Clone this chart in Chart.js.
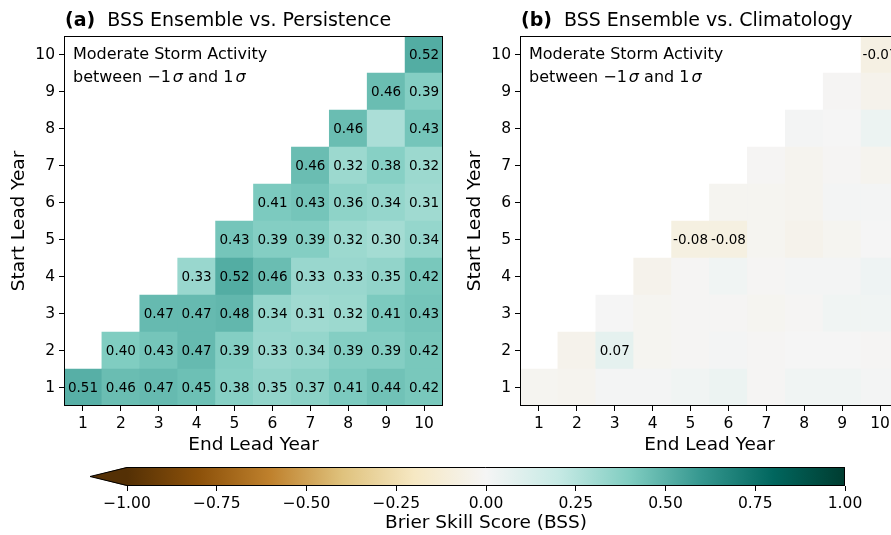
<!DOCTYPE html>
<html>
<head>
<meta charset="utf-8">
<script src="https://cdn.jsdelivr.net/npm/chart.js@4.4.1/dist/chart.umd.min.js"></script>
<style>
  html, body { margin: 0; padding: 0; background: #fff; }
  #wrap { position: relative; width: 891px; height: 535px; overflow: hidden; background: #fff; }
  canvas { position: absolute; }
</style>
</head>
<body>
<div id="wrap">
  <canvas id="chartA" width="460" height="460" style="left:0;top:0"></canvas>
  <canvas id="chartB" width="460" height="460" style="left:456px;top:0"></canvas>
  <canvas id="cbar" width="891" height="80" style="left:0;top:455px"></canvas>
</div>
<script>
// --- data ---
const startYears = [1, 2, 3, 4, 5, 6, 7, 8, 9, 10];
const endYears = [1, 2, 3, 4, 5, 6, 7, 8, 9, 10];

// one row per start lead year, values for end lead year = start .. 10
const bssPersistence = [
    [0.51, 0.46, 0.47, 0.45, 0.38, 0.35, 0.37, 0.41, 0.44, 0.42],
    [0.40, 0.43, 0.47, 0.39, 0.33, 0.34, 0.39, 0.39, 0.42],
    [0.47, 0.47, 0.48, 0.34, 0.31, 0.32, 0.41, 0.43],
    [0.33, 0.52, 0.46, 0.33, 0.33, 0.35, 0.42],
    [0.43, 0.39, 0.39, 0.32, 0.30, 0.34],
    [0.41, 0.43, 0.36, 0.34, 0.31],
    [0.46, 0.32, 0.38, 0.32],
    [0.46, 0.28, 0.43],
    [0.46, 0.39],
    [0.52]
];
const bssClimatology = [
    [-0.02, -0.03, 0.01, 0.01, 0.02, 0.04, -0.01, 0.02, 0.02, 0.01],
    [-0.04, 0.07, -0.02, -0.01, 0.01, -0.01, 0.00, 0.00, -0.01],
    [0.00, -0.02, -0.01, -0.01, -0.02, -0.01, 0.02, 0.02],
    [-0.04, -0.01, 0.02, -0.01, 0.01, 0.01, 0.03],
    [-0.08, -0.08, -0.02, -0.04, -0.02, 0.00],
    [-0.02, -0.02, -0.03, 0.01, 0.01],
    [-0.01, -0.03, -0.01, -0.03],
    [0.01, 0.00, 0.04],
    [-0.01, -0.04],
    [-0.07]
];
// cells drawn without a number, as [start, end]
const unlabeledPersistence = [[8, 9]];

const cbarTicks = [-1, -0.75, -0.5, -0.25, 0, 0.25, 0.5, 0.75, 1];

// matplotlib BrBG
const brbgStops = ['#543005', '#8c510a', '#bf812d', '#dfc27d', '#f6e8c3', '#f5f5f5',
                   '#c7eae5', '#80cdc1', '#35978f', '#01665e', '#003c30'];

Chart.defaults.font.family = "'DejaVu Sans', sans-serif";
Chart.defaults.color = '#000';

const hexRgb = h => [1, 3, 5].map(i => parseInt(h.slice(i, i + 2), 16));

function brbg(v) {
    const n = brbgStops.length - 1;
    const t = Math.min(Math.max((v + 1) / 2, 0), 1) * n;
    const i = Math.min(Math.floor(t), n - 1);
    const f = t - i;
    const a = hexRgb(brbgStops[i]), b = hexRgb(brbgStops[i + 1]);
    const c = a.map((x, k) => Math.round(x + (b[k] - x) * f));
    return `rgb(${c[0]},${c[1]},${c[2]})`;
}

function heatmap(canvasId, values, tag, title, showLabel) {
    const datasets = startYears.map((s, r) => ({
        data: endYears.map(e => e >= s ? [s - 0.5, s + 0.5] : null),
        backgroundColor: endYears.map(e => e >= s ? brbg(values[r][e - s]) : 'rgba(0,0,0,0)'),
        borderWidth: 0,
        barPercentage: 1,
        categoryPercentage: 1,
        grouped: false
    }));

    const decor = {
        id: 'decor',
        afterDatasetsDraw(chart) {
            const { ctx, chartArea: ca, scales: { x, y } } = chart;
            ctx.save();
            // cell numbers
            ctx.font = "13.5px 'DejaVu Sans'";
            ctx.fillStyle = '#000';
            ctx.textAlign = 'center';
            ctx.textBaseline = 'middle';
            startYears.forEach((s, r) => {
                values[r].forEach((v, k) => {
                    const e = s + k;
                    if (!showLabel(s, e, v)) return;
                    ctx.fillText(v.toFixed(2), x.getPixelForValue(e - 1), y.getPixelForValue(s) + 1);
                });
            });
            // frame
            ctx.strokeStyle = '#000';
            ctx.lineWidth = 1;
            ctx.strokeRect(ca.left + 0.5, ca.top + 0.5, ca.right - ca.left - 1, ca.bottom - ca.top - 1);

            // panel title
            ctx.textAlign = 'left';
            ctx.textBaseline = 'alphabetic';
            ctx.font = "bold 19px 'DejaVu Sans'";
            ctx.fillText(tag, ca.left + 1, 26);
            const tw = ctx.measureText(tag).width;
            ctx.font = "19px 'DejaVu Sans'";
            ctx.fillText(title, ca.left + 1 + tw + 12, 26);

            // annotation
            const ax = ca.left + 9;
            ctx.font = "16px 'DejaVu Sans'";
            ctx.fillText('Moderate Storm Activity', ax, 59);
            let cx = ax;
            const part = (txt, font) => {
                ctx.font = font;
                ctx.fillText(txt, cx, 82);
                cx += ctx.measureText(txt).width;
            };
            part('between \u22121', "16px 'DejaVu Sans'");
            cx += 2;
            part('\u03c3', "italic 16px 'DejaVu Sans'");
            part(' and 1', "16px 'DejaVu Sans'");
            cx += 2;
            part('\u03c3', "italic 16px 'DejaVu Sans'");
            ctx.restore();
        }
    };

    return new Chart(document.getElementById(canvasId), {
        type: 'bar',
        data: { labels: endYears.map(String), datasets },
        options: {
            responsive: false,
            animation: false,
            events: [],
            layout: { padding: { top: 36, right: 17, bottom: 0, left: 0 } },
            plugins: { legend: { display: false }, tooltip: { enabled: false } },
            scales: {
                x: {
                    grid: { offset: false, drawOnChartArea: false, tickLength: 5, color: '#000' },
                    border: { display: false },
                    ticks: { font: { size: 15.5 }, padding: 4, maxRotation: 0 },
                    title: { display: true, text: 'End Lead Year', font: { size: 18.5 }, padding: { top: 0, bottom: 4 } },
                    afterFit: s => { s.height = 54; }
                },
                y: {
                    type: 'linear',
                    min: 0.5,
                    max: 10.5,
                    afterBuildTicks: s => { s.ticks = startYears.map(v => ({ value: v })); },
                    grid: { drawOnChartArea: false, tickLength: 5, color: '#000' },
                    border: { display: false },
                    ticks: { font: { size: 15.5 }, padding: 4 },
                    title: { display: true, text: 'Start Lead Year', font: { size: 18.5 }, padding: { top: 8, bottom: 0 } },
                    afterFit: s => { s.width = 64; }
                }
            }
        },
        plugins: [decor]
    });
}

const isUnlabeled = (s, e) => unlabeledPersistence.some(p => p[0] === s && p[1] === e);

heatmap('chartA', bssPersistence, '(a)', 'BSS Ensemble vs. Persistence',
    (s, e) => !isUnlabeled(s, e));
heatmap('chartB', bssClimatology, '(b)', 'BSS Ensemble vs. Climatology',
    (s, e, v) => Math.abs(v) >= 0.065);

// --- colorbar ---
const cbarOutline = {
    id: 'cbarOutline',
    afterDatasetsDraw(chart) {
        const { ctx, chartArea: ca } = chart;
        const tip = ca.left - 37;
        const mid = (ca.top + ca.bottom) / 2;
        ctx.save();
        ctx.fillStyle = brbgStops[0];
        ctx.beginPath();
        ctx.moveTo(ca.left, ca.top);
        ctx.lineTo(tip, mid);
        ctx.lineTo(ca.left, ca.bottom);
        ctx.closePath();
        ctx.fill();
        ctx.strokeStyle = '#000';
        ctx.lineWidth = 1;
        ctx.beginPath();
        ctx.moveTo(tip, mid);
        ctx.lineTo(ca.left, ca.top + 0.5);
        ctx.lineTo(ca.right - 0.5, ca.top + 0.5);
        ctx.lineTo(ca.right - 0.5, ca.bottom - 0.5);
        ctx.lineTo(ca.left, ca.bottom - 0.5);
        ctx.closePath();
        ctx.stroke();
        ctx.restore();
    }
};

new Chart(document.getElementById('cbar'), {
    type: 'bar',
    data: {
        labels: ['BSS'],
        datasets: [{
            data: [[cbarTicks[0], cbarTicks[cbarTicks.length - 1]]],
            backgroundColor: c => {
                const ca = c.chart.chartArea;
                if (!ca) return brbg(0);
                const g = c.chart.ctx.createLinearGradient(ca.left, 0, ca.right, 0);
                brbgStops.forEach((col, i) => g.addColorStop(i / (brbgStops.length - 1), col));
                return g;
            },
            borderWidth: 0,
            barPercentage: 1,
            categoryPercentage: 1
        }]
    },
    options: {
        indexAxis: 'y',
        responsive: false,
        animation: false,
        events: [],
        layout: { padding: { top: 12, left: 127, right: 46, bottom: 0 } },
        plugins: { legend: { display: false }, tooltip: { enabled: false } },
        scales: {
            x: {
                type: 'linear',
                min: -1,
                max: 1,
                afterBuildTicks: s => { s.ticks = cbarTicks.map(v => ({ value: v })); },
                grid: { drawOnChartArea: false, tickLength: 5, color: '#000' },
                border: { display: false },
                ticks: {
                    font: { size: 15.5 },
                    padding: 4,
                    maxRotation: 0,
                    autoSkip: false,
                    callback: v => v.toFixed(2).replace('-', '\u2212')
                },
                title: { display: true, text: 'Brier Skill Score (BSS)', font: { size: 18.5 }, padding: { top: 0, bottom: 1 } },
                afterFit: s => { s.height = 49; }
            },
            y: { display: false }
        }
    },
    plugins: [cbarOutline]
});
</script>
</body>
</html>
